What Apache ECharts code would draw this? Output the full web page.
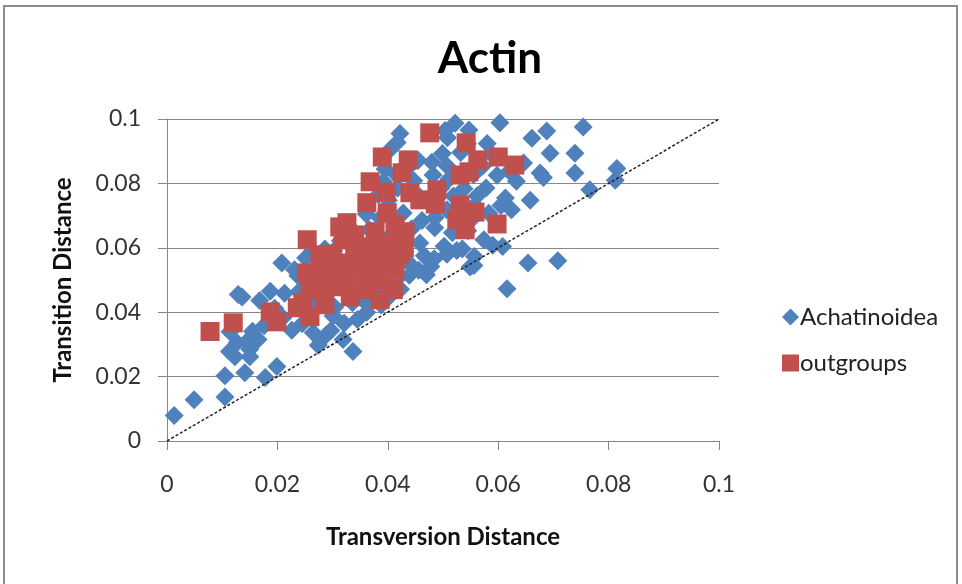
<!DOCTYPE html>
<html>
<head>
<meta charset="utf-8">
<title>Actin</title>
<script src="https://cdn.jsdelivr.net/npm/echarts@6/dist/echarts.min.js"></script>
<style>
  html, body { margin: 0; padding: 0; background: #fff; }
  #chart { width: 962px; height: 584px; }
</style>
</head>
<body>
<div id="chart"></div>
<script>
// Tick values shared by both axes
const axisTicks = [0, 0.02, 0.04, 0.06, 0.08, 0.1];

// Reference line: transitions equal to transversions
const diagonal = [[0, 0], [0.1, 0.1]];

// Achatinoidea pairwise distances: [transversion, transition]
const achatinoidea = [
  [0.0013,0.0079],[0.0049,0.0128],[0.0105,0.0137],[0.0105,0.0203],[0.0141,0.0212],
  [0.0178,0.0197],[0.0199,0.0231],[0.0123,0.0262],[0.015,0.0262],[0.0127,0.0305],
  [0.0145,0.031],[0.0165,0.0315],[0.015,0.0285],[0.0113,0.0278],[0.0129,0.0455],
  [0.0187,0.0465],[0.0208,0.0553],[0.0114,0.0339],[0.0155,0.0341],[0.0176,0.0358],
  [0.0168,0.0436],[0.0136,0.0447],[0.0195,0.0412],[0.021,0.0383],[0.0226,0.0344],
  [0.0245,0.0364],[0.0213,0.0459],[0.0231,0.0532],[0.0239,0.0464],[0.0188,0.0377],
  [0.0319,0.0315],[0.0337,0.0278],[0.0274,0.0297],[0.0287,0.0327],[0.0265,0.0336],
  [0.0297,0.0343],[0.0301,0.0388],[0.0321,0.0366],[0.0345,0.0377],[0.0362,0.04],
  [0.0359,0.0432],[0.0388,0.0422],[0.0381,0.0455],[0.0402,0.0447],[0.0423,0.0471],
  [0.0415,0.05],[0.0439,0.0515],[0.047,0.0516],[0.0507,0.058],[0.0549,0.054],
  [0.0556,0.0545],[0.0608,0.0604],[0.0616,0.0473],[0.0654,0.0553],[0.0708,0.056],
  [0.0525,0.0592],[0.0478,0.0542],[0.0456,0.053],[0.0484,0.0566],[0.0502,0.0605],
  [0.0535,0.0596],[0.0574,0.0625],[0.059,0.0608],[0.0557,0.0573],[0.0466,0.0575],
  [0.0441,0.0548],[0.0395,0.0483],[0.0336,0.0429],[0.0304,0.0415],[0.0272,0.0419],
  [0.0289,0.0456],[0.0258,0.045],[0.0254,0.0491],[0.0237,0.0513],[0.0251,0.0568],
  [0.0278,0.0534],[0.0263,0.0589],[0.0286,0.0596],[0.0312,0.0495],[0.0347,0.0468],
  [0.0372,0.0503],
  [0.0522,0.0987],[0.0603,0.0988],[0.0688,0.0963],[0.0661,0.094],[0.0754,0.0975],
  [0.0694,0.0894],[0.0739,0.0894],[0.0739,0.0832],[0.0766,0.078],[0.0815,0.0846],
  [0.0812,0.081],[0.0676,0.0832],[0.0682,0.0818],[0.0658,0.0748],[0.0613,0.0755],
  [0.058,0.0924],[0.0544,0.0924],[0.0504,0.0964],[0.0422,0.0955],[0.0417,0.0927],
  [0.0403,0.0903],[0.0646,0.0863],[0.062,0.0838],[0.0633,0.0807],[0.0598,0.0825],
  [0.0578,0.0786],[0.0605,0.0731],[0.0562,0.0762],[0.0552,0.0688],[0.0583,0.0707],
  [0.0624,0.0718],[0.0499,0.0893],[0.048,0.0866],[0.0507,0.0855],[0.0455,0.0872],
  [0.0434,0.0845],[0.0416,0.0826],[0.0395,0.0845],[0.0392,0.0806],[0.0418,0.0786],
  [0.0447,0.0808],[0.0482,0.0826],[0.0511,0.0814],[0.0496,0.0785],[0.0519,0.0761],
  [0.0487,0.075],[0.0456,0.0762],[0.0507,0.0718],[0.0486,0.0694],[0.0462,0.0685],
  [0.0485,0.0662],[0.0517,0.0647],[0.0545,0.0653],[0.0443,0.0659],[0.0428,0.0708],
  [0.0398,0.0718],[0.0401,0.0748],[0.0383,0.0765],[0.0386,0.0692],[0.0367,0.0656],
  [0.0403,0.0635],[0.0431,0.0628],[0.0458,0.0615],[0.0421,0.0586],[0.0396,0.0596],
  [0.0382,0.0554],[0.0405,0.0536],[0.0431,0.0563],[0.0351,0.0573],[0.0339,0.0525],
  [0.0367,0.0536],[0.0318,0.0546],[0.0302,0.059],[0.0314,0.0622],[0.0345,0.0622],
  [0.0333,0.0661],[0.0361,0.0705],[0.0555,0.0827],[0.0572,0.0854],[0.0589,0.0889],
  [0.0532,0.0896],[0.0547,0.0966],[0.0508,0.0942],[0.0557,0.0731],[0.0538,0.0783]
];

// Outgroup pairwise distances: [transversion, transition]
const outgroups = [
  [0.0078,0.034],[0.012,0.0367],[0.0187,0.0401],[0.0199,0.037],[0.0236,0.0414],
  [0.0259,0.0386],[0.0246,0.0429],[0.0254,0.0625],[0.0277,0.0572],[0.0254,0.0522],
  [0.0259,0.0479],[0.029,0.0522],[0.0308,0.0479],[0.0313,0.0553],[0.0326,0.0625],
  [0.0313,0.0665],[0.0332,0.0448],[0.0326,0.051],[0.0476,0.0957],[0.039,0.0882],
  [0.0437,0.0873],[0.0368,0.0805],[0.0426,0.0833],[0.044,0.0771],[0.0489,0.078],
  [0.0531,0.0826],[0.0362,0.074],[0.0399,0.0709],[0.0326,0.0678],[0.0377,0.065],
  [0.0422,0.0634],[0.0525,0.0687],[0.0319,0.0625],[0.0362,0.0603],[0.0542,0.0926],
  [0.0563,0.0873],[0.0547,0.0836],[0.06,0.0882],[0.063,0.0857],[0.0531,0.0733],
  [0.0558,0.0711],[0.0598,0.0674],[0.054,0.0656],[0.0486,0.0736],[0.0458,0.0749],
  [0.034,0.0594],[0.0395,0.0609],[0.0422,0.0578],[0.0413,0.0532],[0.0386,0.05],
  [0.0359,0.047],[0.0277,0.047],[0.0286,0.0423],[0.035,0.0532],[0.0377,0.0556],
  [0.0431,0.065],[0.0413,0.0671],[0.0386,0.0439],[0.0397,0.0773],[0.0285,0.0578],
  [0.030,0.058],[0.034,0.064],[0.037,0.059],[0.040,0.056],[0.043,0.060],
  [0.033,0.055],[0.036,0.050],[0.028,0.052],[0.041,0.047],[0.032,0.050]
];

const BLUE = '#4F81BD';
const RED = '#C0504D';
const GRID = '#878787';
const FONT = 'Lato, "Open Sans", sans-serif';

const chart = echarts.init(document.getElementById('chart'));

const step = axisTicks[1] - axisTicks[0];
const fmt = v => String(parseFloat(v.toFixed(2)));

function valueAxis(extra) {
  return Object.assign({
    type: 'value',
    min: axisTicks[0],
    max: axisTicks[axisTicks.length - 1],
    interval: step,
    axisLine: { show: true, lineStyle: { color: GRID, width: 1 } },
    axisTick: { show: true, length: 9, lineStyle: { color: GRID, width: 1 } },
    nameLocation: 'middle',
    nameTextStyle: { color: '#111', fontSize: 24, fontWeight: 'bold', fontFamily: FONT }
  }, extra);
}

chart.setOption({
  backgroundColor: '#fff',
  animation: false,
  title: {
    text: 'Actin',
    left: 485,
    textAlign: 'center',
    top: 32,
    textStyle: { fontSize: 44, fontWeight: 'bold', color: '#000', fontFamily: FONT }
  },
  graphic: [{
    type: 'rect',
    shape: { x: 4, y: 6, width: 953, height: 600 },
    style: { fill: 'none', stroke: '#8c8c8c', lineWidth: 2 },
    silent: true
  }],
  legend: {
    data: [
      { name: 'Achatinoidea', icon: 'diamond' },
      { name: 'outgroups', icon: 'rect' }
    ],
    orient: 'vertical',
    left: 777,
    top: 300,
    itemWidth: 17,
    itemHeight: 17,
    itemGap: 22,
    textStyle: { fontSize: 24, color: '#222', fontFamily: FONT, padding: [0, 0, 0, -4] }
  },
  grid: { left: 167, right: 243, top: 119, bottom: 143 },
  xAxis: valueAxis({
    name: 'Transversion Distance',
    nameGap: 84,
    axisLabel: { color: '#333', fontSize: 23, fontFamily: FONT, formatter: fmt, margin: 32 },
    splitLine: { show: false }
  }),
  yAxis: valueAxis({
    name: 'Transition Distance',
    nameGap: 92,
    axisLabel: { color: '#333', fontSize: 23, fontFamily: FONT, formatter: fmt, margin: 26 },
    splitLine: { show: true, lineStyle: { color: GRID, width: 1 } }
  }),
  series: [
    {
      name: 'Achatinoidea',
      type: 'scatter',
      symbol: 'diamond',
      symbolSize: 19,
      itemStyle: { color: BLUE, opacity: 1 },
      data: achatinoidea,
      z: 2
    },
    {
      name: 'outgroups',
      type: 'scatter',
      symbol: 'rect',
      symbolSize: 19,
      itemStyle: { color: RED, opacity: 1 },
      data: outgroups,
      z: 3
    },
    {
      name: 'diagonal',
      type: 'line',
      data: diagonal,
      symbol: 'none',
      silent: true,
      lineStyle: { color: '#222', width: 1.5, type: [3, 2] },
      z: 4
    }
  ]
});
</script>
</body>
</html>
